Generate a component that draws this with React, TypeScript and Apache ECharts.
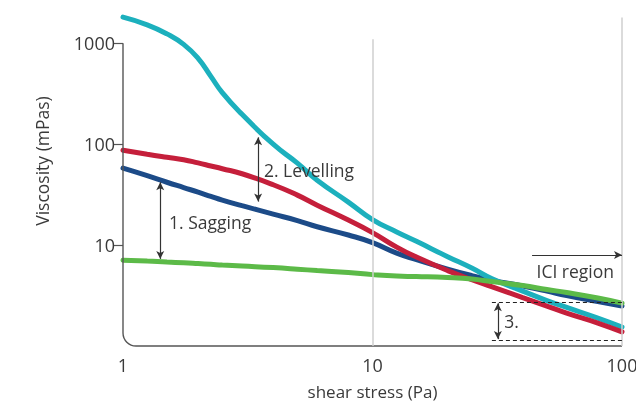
import React, { useEffect, useRef } from "react";
import * as echarts from "echarts";

// shear stress (Pa)
const shearStress = [1, 1.25, 1.5, 1.75, 2, 2.25, 2.5, 3, 4, 5, 6, 8, 10, 12.5, 15, 20, 25, 30, 40, 50, 60, 80, 100];
// viscosity (mPas)
const cyanValues = [1820, 1528, 1242, 977, 710, 471, 325, 198, 100, 64.9, 44.0, 26.7, 17.9, 13.5, 10.9, 7.69, 5.92, 4.66, 3.5, 2.82, 2.41, 1.89, 1.54];
const redValues = [87.2, 79.6, 74.3, 70.3, 65.3, 60.9, 57.2, 51.0, 39.7, 31.3, 24.9, 17.7, 13.3, 9.55, 7.61, 5.59, 4.55, 3.88, 3.02, 2.49, 2.12, 1.69, 1.38];
const blueValues = [57.9, 48.8, 42.0, 37.2, 33.5, 30.4, 27.9, 24.6, 20.3, 17.5, 15.2, 12.6, 10.6, 8.33, 7.18, 5.79, 4.99, 4.5, 3.93, 3.5, 3.16, 2.76, 2.49];
const greenValues = [7.1, 6.95, 6.79, 6.68, 6.56, 6.45, 6.34, 6.2, 5.99, 5.78, 5.59, 5.34, 5.1, 4.93, 4.88, 4.77, 4.61, 4.35, 3.97, 3.63, 3.39, 2.99, 2.66];

const xTicks = [1, 10, 100];
const yTicks = [10, 100, 1000];

const FONT = '"Open Sans", "Noto Sans", sans-serif';
const TEXT = "#3a3a3a";

const pairs = (vals: number[]) => shearStress.map((x, i) => [x, vals[i]]);

export default function App() {
  const ref = useRef<HTMLDivElement>(null);
  useEffect(() => {
    const chart = echarts.init(ref.current!, null, { renderer: "svg" });
    const lineSeries = (name: string, vals: number[], color: string) => ({
      name,
      type: "line",
      data: pairs(vals),
      smooth: 0.5,
      showSymbol: false,
      symbol: "none",
      z: 3,
      lineStyle: { color, width: 5, cap: "round" },
    });
    const arrowStyle = { color: "#333", width: 1.2, type: "solid" };
    const dashStyle = { color: "#222", width: 1.2, type: [4, 3] };
    chart.setOption({
      animation: false,
      grid: { left: 123, right: 14, top: 13, bottom: 57, containLabel: false, outerBoundsMode: "none" },
      xAxis: {
        type: "log",
        min: 1,
        max: 100,
        name: "shear stress (Pa)",
        nameLocation: "middle",
        nameGap: 37,
        nameTextStyle: { color: TEXT, fontSize: 17, fontFamily: FONT },
        axisLine: { show: false },
        axisTick: { show: false },
        splitLine: { show: false },
        axisLabel: { color: TEXT, fontSize: 18, fontFamily: FONT, margin: 10, customValues: xTicks },
      },
      yAxis: {
        type: "log",
        min: 1,
        max: 2000,
        axisLine: { show: false },
        axisTick: { show: true, length: 10, lineStyle: { color: "#555", width: 1.2 }, customValues: yTicks },
        splitLine: { show: false },
        axisLabel: { color: TEXT, fontSize: 18, fontFamily: FONT, margin: 8, customValues: yTicks, formatter: (v: number) => String(v) },
      },
      series: [
        {
          type: "line",
          data: [],
          z: 1,
          silent: true,
          markLine: {
            silent: true,
            symbol: ["none", "none"],
            label: { show: false },
            lineStyle: { color: "#cfcfcf", width: 1.5, type: "solid" },
            data: [
              [{ coord: [10, 1100] }, { coord: [10, 1] }],
              [{ coord: [100, 1800] }, { coord: [100, 1] }],
            ],
          },
        },
        lineSeries("blue", blueValues, "#1c4b88"),
        lineSeries("cyan", cyanValues, "#1cb0bd"),
        lineSeries("red", redValues, "#c51f3b"),
        lineSeries("green", greenValues, "#5cba48"),
        {
          type: "line",
          data: [],
          z: 5,
          silent: true,
          markLine: {
            silent: true,
            label: { show: false },
            symbolSize: [6, 8],
            data: [
              [{ coord: [1.41, 42], symbol: "arrow" }, { coord: [1.41, 7.3], symbol: "arrow", lineStyle: arrowStyle }],
              [{ coord: [3.48, 117], symbol: "arrow" }, { coord: [3.48, 27], symbol: "arrow", lineStyle: arrowStyle }],
              [{ coord: [31.8, 2.65], symbol: "arrow" }, { coord: [31.8, 1.17], symbol: "arrow", lineStyle: arrowStyle }],
              [{ coord: [43.6, 7.96], symbol: "none" }, { coord: [100, 7.96], symbol: "arrow", lineStyle: arrowStyle }],
              [{ coord: [30.1, 2.73], symbol: "none" }, { coord: [100, 2.73], symbol: "none", lineStyle: dashStyle }],
              [{ coord: [30.1, 1.146], symbol: "none" }, { coord: [100, 1.146], symbol: "none", lineStyle: dashStyle }],
            ],
            lineStyle: arrowStyle,
          },
        },
      ],
    });

    const p = (x: number, y: number) => chart.convertToPixel({ gridIndex: 0 }, [x, y]) as number[];
    const top = p(1, 1000);
    const corner = p(1, 1);
    const right = p(100, 1);
    const r = 13;
    const axisStyle = { stroke: "#555", lineWidth: 1.4, fill: "none" };
    const txt = (t: string, pos: number[], align: string, size = 17.5) => ({
      type: "text",
      x: pos[0],
      y: pos[1],
      z: 10,
      style: { text: t, fill: TEXT, fontSize: size, fontFamily: FONT, align, verticalAlign: "middle" },
    });
    chart.setOption({
      graphic: [
        { type: "line", shape: { x1: top[0], y1: top[1], x2: corner[0], y2: corner[1] - r }, style: axisStyle, z: 4 },
        {
          type: "arc",
          shape: { cx: corner[0] + r, cy: corner[1] - r, r, startAngle: Math.PI / 2, endAngle: Math.PI, clockwise: true },
          style: axisStyle,
          z: 4,
        },
        { type: "line", shape: { x1: corner[0] + r, y1: corner[1], x2: right[0], y2: right[1] }, style: axisStyle, z: 4 },
        txt("1. Sagging", p(1.53, 16.9), "left"),
        txt("2. Levelling", p(3.67, 55.3), "left"),
        txt("3.", p(33.7, 1.77), "left"),
        txt("ICI region", p(92.9, 5.53), "right"),
        {
          type: "text",
          x: 42,
          y: 161,
          rotation: Math.PI / 2,
          style: { text: "Viscosity (mPas)", fill: TEXT, fontSize: 17.5, fontFamily: FONT, align: "center", verticalAlign: "middle" },
        },
      ],
    });
    return () => chart.dispose();
  }, []);
  return <div ref={ref} style={{ position: "fixed", left: 0, top: 0, width: 636, height: 403 }} />;
}
